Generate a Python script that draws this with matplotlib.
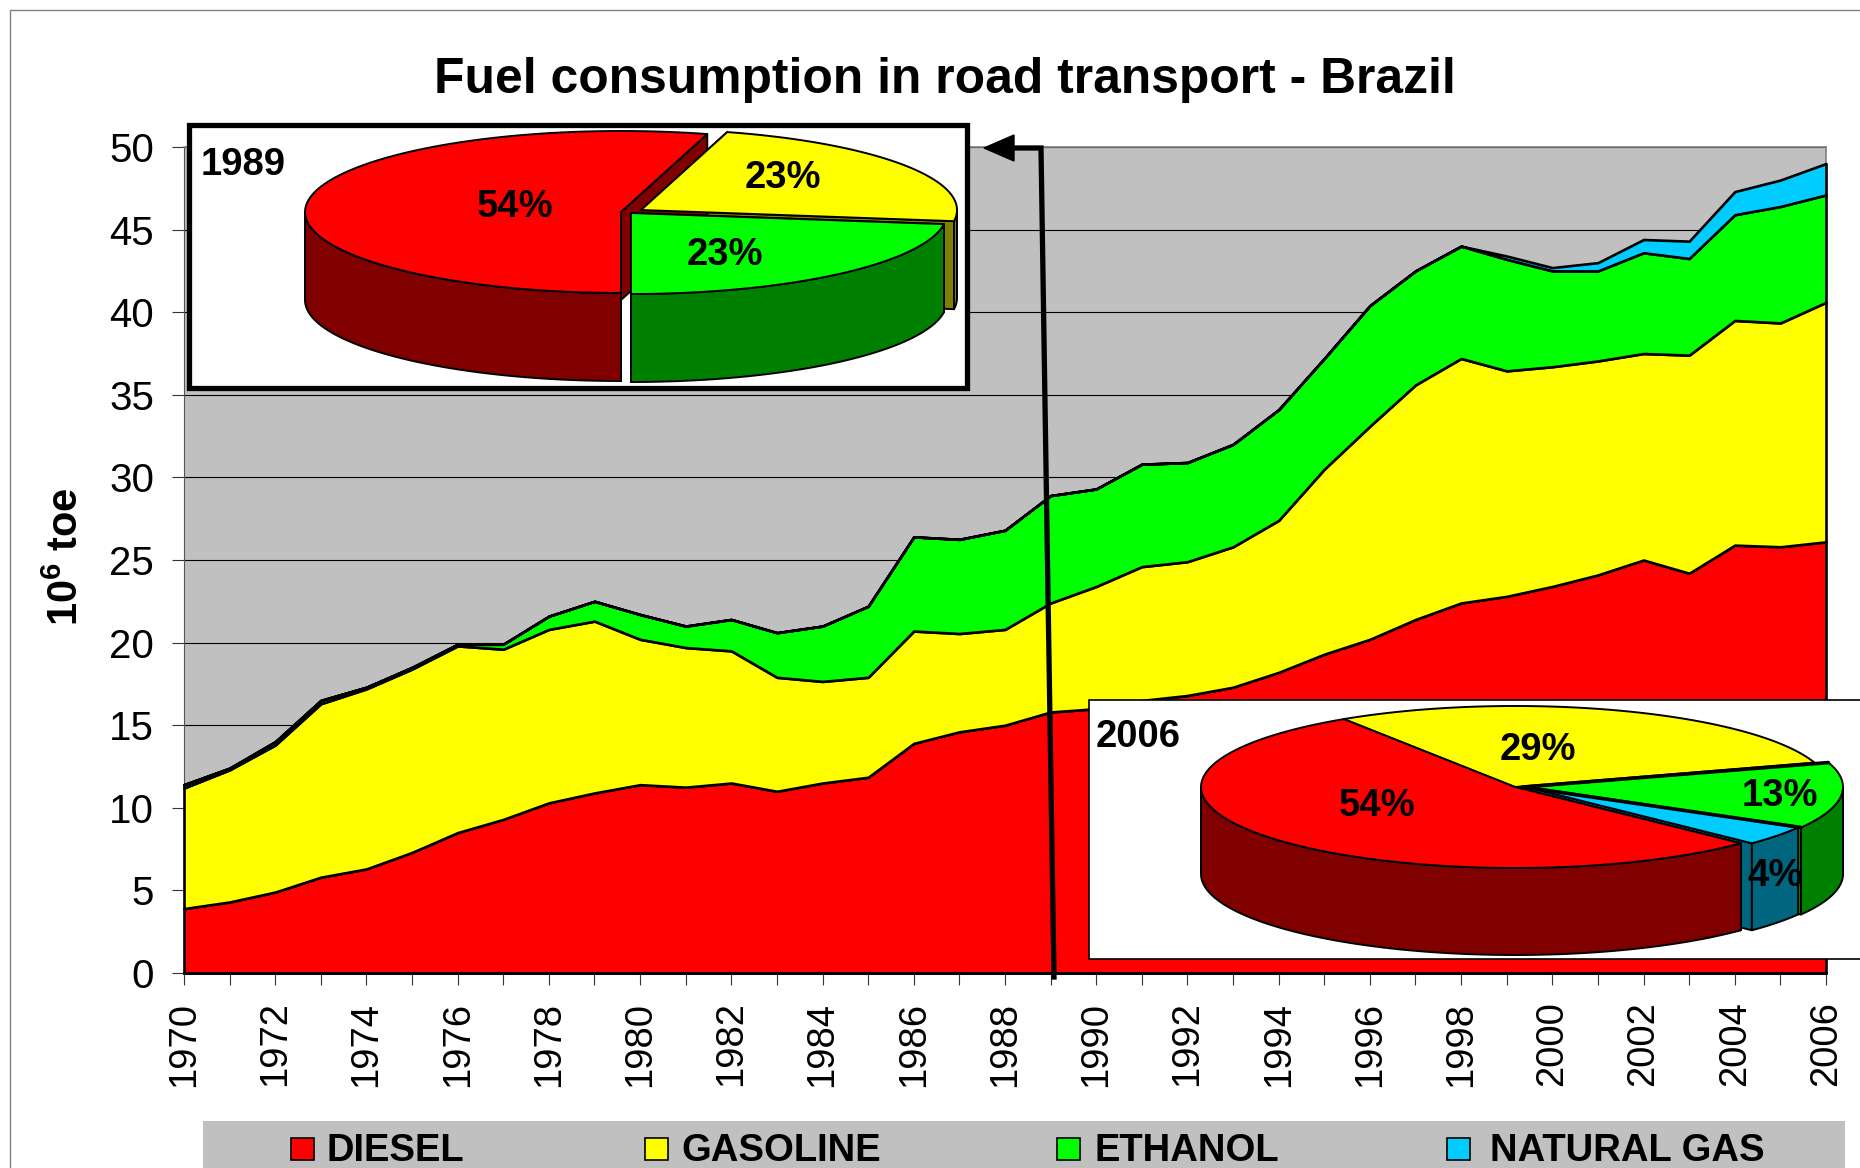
import numpy as np
import matplotlib
matplotlib.use("Agg")
import matplotlib.pyplot as plt
from matplotlib.patches import Rectangle, Polygon

plt.rcParams['font.family'] = ['Liberation Sans', 'DejaVu Sans']
plt.rcParams['mathtext.fontset'] = 'custom'
plt.rcParams['mathtext.bf'] = 'Liberation Sans:bold'
plt.rcParams['mathtext.rm'] = 'Liberation Sans:bold'

years = list(range(1970, 2007))
diesel = [3.9, 4.3, 4.9, 5.8, 6.3, 7.3, 8.5, 9.3, 10.3, 10.9, 11.4, 11.25, 11.5, 11.0, 11.5, 11.85, 13.9, 14.6, 15.0,
          15.8, 16.0, 16.5, 16.8, 17.3, 18.2, 19.3, 20.2, 21.4, 22.4, 22.8, 23.4, 24.1, 25.0, 24.2, 25.9, 25.8, 26.1]
gasoline = [7.3, 8.0, 8.9, 10.5, 10.9, 11.1, 11.3, 10.3, 10.5, 10.4, 8.8, 8.45, 8.0, 6.9, 6.15, 6.05, 6.8, 5.95, 5.8,
            6.6, 7.4, 8.1, 8.1, 8.5, 9.2, 11.2, 12.9, 14.2, 14.8, 13.65, 13.3, 12.95, 12.5, 13.2, 13.6, 13.55, 14.5]
ethanol = [0.2, 0.1, 0.2, 0.2, 0.1, 0.1, 0.1, 0.3, 0.8, 1.2, 1.5, 1.3, 1.9, 2.7, 3.35, 4.3, 5.7, 5.7, 6.0,
           6.5, 5.9, 6.2, 6.0, 6.2, 6.7, 6.7, 7.3, 6.9, 6.8, 6.75, 5.8, 5.45, 6.1, 5.85, 6.4, 7.05, 6.5]
natural_gas = [0] * 29 + [0.2, 0.2, 0.5, 0.8, 1.05, 1.4, 1.6, 1.9]

fuel_names = ['DIESEL', 'GASOLINE', 'ETHANOL', 'NATURAL GAS']
fuel_colors = ['#FF0000', '#FFFF00', '#00FF00', '#00CCFF']
dark_colors = ['#800000', '#808000', '#008000', '#006680']

shares_1989 = [54.4, 22.8, 22.8]
shares_2006 = [53.6, 29.3, 13.2, 3.9]

W, H = 1860, 1168
fig = plt.figure(figsize=(W / 100, H / 100), dpi=100, facecolor='white')
ax = fig.add_axes([184 / W, 1 - 973 / H, (1826 - 184) / W, (973 - 147) / H])
ax.set_facecolor('#C0C0C0')
ax.stackplot(years, diesel, gasoline, ethanol, natural_gas, colors=fuel_colors,
             edgecolor='black', linewidth=1.9, clip_on=False, zorder=3)
ax.set_xlim(1970, 2006)
ax.set_ylim(0, 50)
ax.set_yticks(range(0, 51, 5))
ax.yaxis.grid(True, color='black', linewidth=0.8)
ax.set_axisbelow(True)
ax.set_xticks(years)
ax.set_xticklabels([str(y) if (y % 2 == 0) else '' for y in years], rotation=90)
ax.tick_params(axis='x', labelsize=27.5, length=8.6, width=0.8, pad=12, color='#333333')
ax.tick_params(axis='y', labelsize=29, length=8.6, width=0.8, pad=13, color='#333333')
for s in ['top', 'right']:
    ax.spines[s].set_color('#808080')
    ax.spines[s].set_linewidth(1.2)
ax.spines['left'].set_color('#555555')
ax.spines['bottom'].set_linewidth(2)
ax.spines['bottom'].set_zorder(5)

# overlay in reference pixel coordinates
ov = fig.add_axes([0, 0, 1, 1], zorder=10)
ov.set_xlim(0, W)
ov.set_ylim(H, 0)
ov.axis('off')
ov.patch.set_alpha(0)

# figure frame
ov.plot([10, 10, W], [H, 10, 10], color='#808080', lw=1.0)

ov.text(945, 80, 'Fuel consumption in road transport - Brazil', fontsize=35.8, fontweight='bold',
        ha='center', va='center')
ov.text(67, 557, r'$\mathbf{10^{6}}$ toe', fontsize=30, fontweight='bold', rotation=90,
        ha='center', va='center')

# arrow from the 1989 position to the inset
ov.plot([1054, 1041, 1012], [977, 148, 148], color='black', lw=3.8, solid_joinstyle='miter')
ov.add_patch(Polygon([[984, 148], [1014, 135], [1014, 161]], closed=True, fc='black', ec='black'))


def rim(cx, cy, a, b, t0, t1, n=90):
    t = np.radians(np.linspace(t0, t1, n))
    return np.column_stack([cx + a * np.cos(t), cy - b * np.sin(t)])


def pie3d(shares, colors, darks, cx, cy, a, b, depth, start, offsets, heavy=(), z=5):
    edge = dict(ec='black', lw=1.4, joinstyle='round')
    angles = start - np.cumsum([0] + list(shares)) * 3.6
    sl = []
    for i, s in enumerate(shares):
        dx, dy = offsets[i]
        sl.append((angles[i], angles[i + 1], cx + dx, cy + dy, colors[i], darks[i]))
    # slices from the back of the pie to the front
    order = sorted(range(len(sl)), key=lambda k: np.sin(np.radians((sl[k][0] + sl[k][1]) / 2)))[::-1]
    for k in order:
        t0, t1, x, y, c, d = sl[k]
        for t in (t0, t1):
            p = rim(x, y, a, b, t, t, 2)[0]
            ov.add_patch(Polygon([[x, y], p, p + [0, depth], [x, y + depth]], closed=True, fc=d, zorder=z, **edge))
    for k in order:
        t0, t1, x, y, c, d = sl[k]
        # outer wall: only the lower half of the ellipse faces the viewer
        for base in (-360, 0, 360):
            lo, hi = max(t1, base - 180), min(t0, base)
            if hi > lo:
                arc = rim(x, y, a, b, lo, hi)
                ov.add_patch(Polygon(np.vstack([arc, (arc + [0, depth])[::-1]]), closed=True, fc=d, zorder=z + 1, **edge))
    for k in order:
        t0, t1, x, y, c, d = sl[k]
        arc = rim(x, y, a, b, t1, t0)
        ov.add_patch(Polygon(np.vstack([[x, y], arc]), closed=True, fc=c, zorder=z + 2, **edge))
    for k in heavy:
        t0, t1, x, y, c, d = sl[k]
        for t in (t0, t1):
            p = rim(x, y, a, b, t, t, 2)[0]
            ov.plot([x - 6, p[0]], [y, p[1]], color='black', lw=2.6, zorder=z + 3,
                    solid_capstyle='round')


# inset 1989
ov.add_patch(Rectangle((188.5, 124.5), 778.5, 263, fc='white', ec='black', lw=3.8, zorder=4))
pie3d(shares_1989, fuel_colors[:3], dark_colors[:3], 621, 212, 316, 81, 88, 270,
      [(0, 0), (20, -2), (10, 1)])
ov.text(243, 165, '1989', fontsize=27.5, fontweight='bold', ha='center', va='center', zorder=9)
for v, (x, y) in zip(shares_1989, [(515, 207), (783, 178), (725, 255)]):
    ov.text(x, y, f'{v:.0f}%', fontsize=27.5, fontweight='bold', ha='center', va='center', zorder=9)

# inset 2006
ov.add_patch(Rectangle((1089, 700), 800, 259, fc='white', ec='black', lw=1.2, zorder=4))
pie3d(shares_2006, fuel_colors, dark_colors, 1515, 787, 314, 81, 87, 316,
      [(0, 0), (0, 0), (14, 0), (11, 0)], heavy=[2])
ov.text(1138, 737, '2006', fontsize=27.5, fontweight='bold', ha='center', va='center', zorder=9)
for v, (x, y) in zip(shares_2006, [(1377, 806), (1538, 750), (1780, 796), (1775, 876)]):
    ov.text(x, y, f'{v:.0f}%', fontsize=27.5, fontweight='bold', ha='center', va='center', zorder=9)

# legend band
ov.add_patch(Rectangle((203, 1121), 1642, 60, fc='#C0C0C0', ec='none', zorder=4))
for name, col, kx, tx in zip(fuel_names, fuel_colors, [291, 645, 1057, 1447], [326, 681, 1094, 1490]):
    ov.add_patch(Rectangle((kx, 1138), 23, 22, fc=col, ec='black', lw=1.2, zorder=5))
    ov.text(tx, 1151, name, fontsize=27.5, fontweight='bold', ha='left', va='center', zorder=5)

fig.savefig('out.png', dpi=100, facecolor='white')
